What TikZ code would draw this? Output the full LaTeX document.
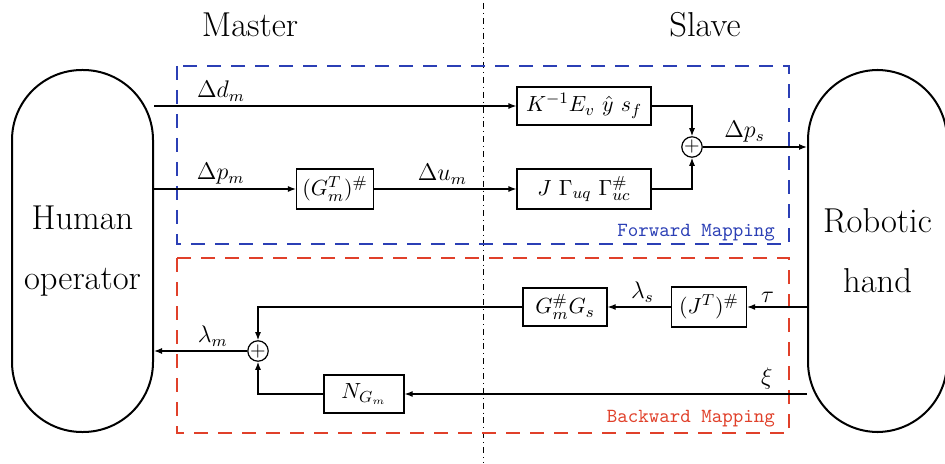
\documentclass[tikz,border=0pt]{standalone}
\usepackage{xcolor}
\usepackage{tikz}
\usetikzlibrary{positioning, arrows.meta, calc}
\definecolor{fwdblue}{HTML}{2B3FB5}
\definecolor{bwdred}{HTML}{E0402A}

\tikzset{
  sidebox/.style={draw, line width=1pt, rounded corners=35pt, align=center,
                  font=\LARGE, minimum width=70.5pt, minimum height=181pt},
  blockbox/.style={draw, line width=0.6pt, minimum height=19pt, inner sep=2pt,
                   font=\fontsize{11}{13}\selectfont},
  sumnode/.style={draw, circle, line width=0.6pt, minimum size=10pt, inner sep=0pt},
  sig/.style={-{Latex[length=4pt,width=3pt]}, line width=0.6pt},
  siglabel/.style={font=\large, inner sep=2pt},
  maplabel/.style={font=\ttfamily}
}

\begin{document}
\begin{tikzpicture}[x=0.5pt, y=-0.5pt]
    \useasboundingbox (0,0) rectangle (945,464);

    % sides and separation
    \node at (250,25) {\LARGE Master};
    \node at (705,25) {\LARGE Slave};
    \draw[dash dot, line width=0.5pt] (483,3) -- (483,462);

    \node[sidebox] (human) at (82.5,251) {Human\\[8pt]operator};
    \node[sidebox, minimum width=69.5pt] (robot) at (877.5,251) {Robotic\\[8pt]hand};

    % mapping areas
    \draw[fwdblue, dash pattern=on 7pt off 5pt, line width=0.6pt] (177,66) rectangle (789,244);
    \node[maplabel, text=fwdblue, anchor=base east] (fwdlabel) at (782,236) {Forward Mapping};
    \draw[bwdred, dash pattern=on 7pt off 5pt, line width=0.6pt] (177,258) rectangle (789,433);
    \node[maplabel, text=bwdred, anchor=base east] (bwdlabel) at (782,422) {Backward Mapping};

    % forward blocks
    \node[blockbox, minimum width=67pt] (kblock) at (584,106) {$K^{-1}E_v\ \hat{y}\ s_f$};
    \node[blockbox, minimum width=38.5pt, minimum height=20pt] (gblock) at (335,189) {$(G_m^T)^{\#}$};
    \node[blockbox, minimum width=67pt, minimum height=20pt] (jblock) at (584,189) {$J\ \Gamma_{uq}\ \Gamma^{\#}_{uc}$};
    \node[sumnode] (sumfwd) at (692,147) {$+$};

    \draw[sig] (human.east |- kblock) -- node[siglabel, pos=0.185, above] {$\Delta d_m$} (kblock);
    \draw[sig] (human.east |- gblock) -- node[siglabel, pos=0.47, above] {$\Delta p_m$} (gblock);
    \draw[sig] (gblock) -- node[siglabel, pos=0.48, above] {$\Delta u_m$} (jblock);
    \draw[sig] (kblock.east) -| (sumfwd.north);
    \draw[sig] (jblock.east) -| (sumfwd.south);
    \draw[sig] (sumfwd) -- node[siglabel, pos=0.4, above] {$\Delta p_s$} (robot.west |- sumfwd);

    % backward blocks
    \node[blockbox, minimum width=37.5pt, minimum height=20pt] (jtblock) at (709,307) {$(J^T)^{\#}$};
    \node[blockbox, minimum width=42pt] (ggblock) at (565,307) {$G^{\#}_m G_s$};
    \node[blockbox, minimum width=40pt] (nblock) at (364,394) {$N_{G_m}$};
    \node[sumnode] (sumbwd) at (258,351) {$+$};

    \draw[sig] (robot.west |- jtblock) -- node[siglabel, pos=0.66, above] {$\tau$} (jtblock);
    \draw[sig] (jtblock) -- node[siglabel, pos=0.45, above] {$\lambda_s$} (ggblock);
    \draw[sig] (ggblock.west) -| (sumbwd.north);
    \draw[sig] (robot.west |- nblock) -- node[siglabel, pos=0.1, above] {$\xi$} (nblock);
    \draw[sig] (nblock.west) -| (sumbwd.south);
    \draw[sig] (sumbwd) -- node[siglabel, pos=0.37, above] {$\lambda_m$} (human.east |- sumbwd);
\end{tikzpicture}
\end{document}
